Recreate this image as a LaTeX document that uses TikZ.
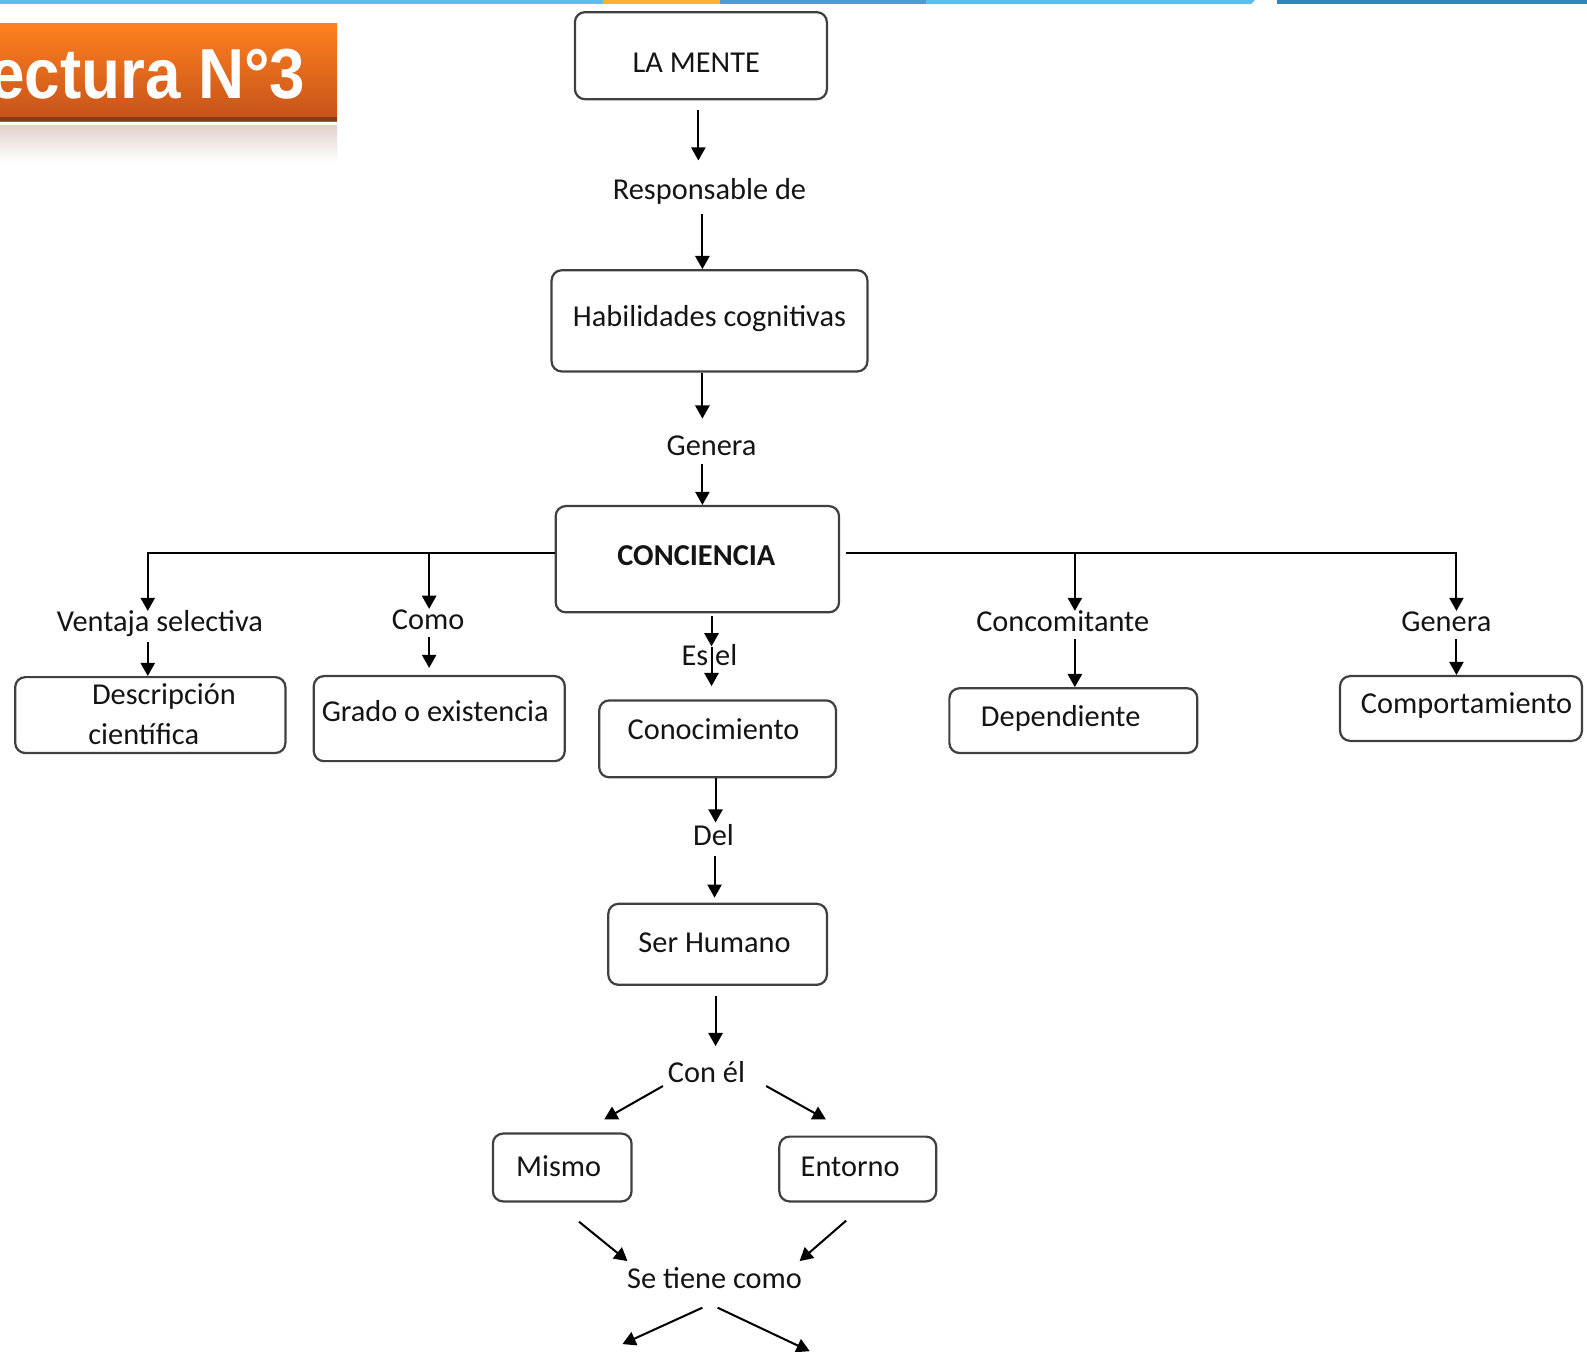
\documentclass[tikz,border=0pt]{standalone}
\usepackage{fontspec}
\usepackage{graphicx}
\setmainfont{Carlito}
\newfontfamily\bannerfont{Liberation Sans}
\usetikzlibrary{arrows.meta}
\definecolor{lblue}{HTML}{5FBDE9}
\definecolor{mblue}{HTML}{4A9ED3}
\definecolor{dblue}{HTML}{3282BE}
\definecolor{obar}{HTML}{FBB034}
\definecolor{bantop}{HTML}{FF801F}
\definecolor{banbot}{HTML}{C4521A}
\definecolor{banline}{HTML}{8A3A14}
\definecolor{refl}{HTML}{E2D2CC}
\definecolor{ink}{HTML}{141414}
\tikzset{
  box/.style={draw=black!75, line width=1.1pt, rounded corners=5pt, inner sep=0pt},
  lbl/.style={inner sep=0pt, font=\fontsize{15}{18}\selectfont, text=ink, text height=11pt, text depth=3pt, yshift=-1pt},
  arr/.style={draw=black, line width=1pt, -{Triangle[length=6.5pt,width=7pt]}},
}
\begin{document}
\begin{tikzpicture}[x=0.5pt,y=-0.5pt]
\useasboundingbox (0,0) rectangle (1568,1335);
% top bar
\fill[lblue] (0,0) rectangle (596,4);
\fill[obar] (596,0) rectangle (711,4);
\fill[mblue] (711,0) rectangle (915,4);
\fill[lblue] (915,0) -- (1240,0) -- (1236,4) -- (915,4) -- cycle;
\fill[dblue] (1262,0) rectangle (1568,4);
% banner
\shade[top color=bantop, bottom color=banbot] (0,23) rectangle (333,120);
\fill[banline] (0,116) rectangle (333,120);
\shade[top color=refl, bottom color=white] (0,124) rectangle (333,160);
\begin{scope}
\clip (0,23) rectangle (333,120);
\node[anchor=base east, inner sep=0pt, text=white, font=\bannerfont\bfseries\fontsize{35}{40}\selectfont] (title) at (302,97) {\scalebox{0.9}[1]{Lectura N°3}};
\end{scope}

% boxes
\node[box, minimum width=124.5pt, minimum height=43pt] (lam) at (692.5,55) {};
\node[box, minimum width=156pt, minimum height=50pt] (hab) at (701,317) {};
\node[box, minimum width=140pt, minimum height=52.5pt] (conc) at (689,552.5) {};
\node[box, minimum width=133.5pt, minimum height=37.5pt] (desc) at (148.5,706.5) {};
\node[box, minimum width=124pt, minimum height=42pt] (grado) at (434,710) {};
\node[box, minimum width=117pt, minimum height=38pt] (cono) at (709,730) {};
\node[box, minimum width=122.5pt, minimum height=32pt] (dep) at (1060.5,712) {};
\node[box, minimum width=119.5pt, minimum height=32pt] (comp) at (1443.5,700) {};
\node[box, minimum width=108pt, minimum height=40pt] (ser) at (709,933) {};
\node[box, minimum width=68.5pt, minimum height=33.5pt] (mis) at (555.5,1153.5) {};
\node[box, minimum width=77.5pt, minimum height=32pt] (ent) at (847.5,1155) {};

% box texts
\node[lbl] (lamT) at (688,62) {LA MENTE};
\node[lbl] (habT) at (701,313) {Habilidades cognitivas};
\node[lbl, font=\fontsize{15}{18}\selectfont\bfseries] (concT) at (688,549) {CONCIENCIA};
\node[lbl] (descT1) at (162,686) {Descripción};
\node[lbl] (descT2) at (142,726) {científica};
\node[lbl] (gradoT) at (430,703) {Grado o existencia};
\node[lbl] (conoT) at (705,721) {Conocimiento};
\node[lbl] (depT) at (1048,708) {Dependiente};
\node[lbl] (compT) at (1449,695) {Comportamiento};
\node[lbl] (serT) at (706,931) {Ser Humano};
\node[lbl] (misT) at (552,1152) {Mismo};
\node[lbl] (entT) at (840,1152) {Entorno};

% connector labels
\node[lbl] (resp) at (701,187) {Responsable de};
\node[lbl] (gen1) at (703,440) {Genera};
\node[lbl] (vent) at (158,614) {Ventaja selectiva};
\node[lbl] (como) at (423,612) {Como};
\node[lbl] (esel) at (701,648) {Es el};
\node[lbl] (concom) at (1050,614) {Concomitante};
\node[lbl] (gen2) at (1429,614) {Genera};
\node[lbl] (del) at (705,825) {Del};
\node[lbl] (conel) at (698,1060) {Con él};
\node[lbl] (setiene) at (706,1263) {Se tiene como};

% guide coordinates
\coordinate (v1) at (690,0);
\coordinate (v2) at (694,0);
\coordinate (ves) at (703,0);
\coordinate (vd1) at (707,0);
\coordinate (vd2) at (706,0);
\coordinate (vd3) at (707,0);
\coordinate (dl1) at (146,0);
\coordinate (dl2) at (424,0);
\coordinate (dr1) at (1062,0);
\coordinate (dr2) at (1439,0);
\coordinate (hl) at (0,546);
\coordinate (hr) at (836,546);
\coordinate (b1) at (615,1328);
\coordinate (b2) at (800,1335);

% main spine
\draw[arr, shorten <=5pt, shorten >=8pt] (lam.south -| v1) -- (resp.north -| v1);
\draw[arr, shorten <=4pt] (resp.south -| v2) -- (hab.north -| v2);
\draw[arr, shorten >=7pt] (hab.south -| v2) -- (gen1.north -| v2);
\draw[arr, shorten <=1pt] (gen1.south -| v2) -- (conc.north -| v2);

% branches
\draw[arr, shorten >=-1pt] (conc.west |- hl) -| (vent.north -| dl1);
\draw[arr, shorten >=-1pt] (dl2 |- hl) -- (como.north -| dl2);
\draw[arr, shorten >=-1pt] (hr) -| (gen2.north -| dr2);
\draw[arr, shorten >=-1pt] (dr1 |- hl) -- (concom.north -| dr1);
\draw[arr, shorten <=2pt] (vent.south -| dl1) -- (desc.north -| dl1);
\draw[arr, shorten <=0.5pt, shorten >=3.5pt] (como.south -| dl2) -- (grado.north -| dl2);
\draw[arr, shorten <=0.5pt] (concom.south -| dr1) -- (dep.north -| dr1);
\draw[arr, shorten <=0.5pt] (gen2.south -| dr2) -- (comp.north -| dr2);

% es el
\draw[arr, shorten <=1.5pt, shorten >=-1.5pt] (conc.south -| ves) -- (esel.north -| ves);
\draw[arr, shorten <=2pt, shorten >=6.5pt] (esel.north -| ves) -- (cono.north -| ves);

% lower spine
\draw[arr, shorten <=0pt] (cono.south -| vd1) -- (del.north -| vd1);
\draw[arr, shorten <=2pt, shorten >=2.5pt] (del.south -| vd2) -- (ser.north -| vd2);
\draw[arr, shorten <=5pt, shorten >=7pt] (ser.south -| vd3) -- (conel.north -| vd3);

% diagonals
\draw[arr] ([xshift=-21.5pt,yshift=-5.5pt]conel.center) -- ([xshift=20.75pt,yshift=23.75pt]mis.center);
\draw[arr] ([xshift=29.5pt,yshift=-5.5pt]conel.center) -- ([xshift=-15.75pt,yshift=24.5pt]ent.center);
\draw[arr] ([xshift=8.25pt,yshift=-26.75pt]mis.center) -- ([xshift=-43pt,yshift=9.5pt]setiene.center);
\draw[arr] ([xshift=-5.75pt,yshift=-25.5pt]ent.center) -- ([xshift=42pt,yshift=9.5pt]setiene.center);
\draw[arr] ([xshift=-6pt,yshift=-13.5pt]setiene.center) -- (b1);
\draw[arr] ([xshift=1.5pt,yshift=-13.5pt]setiene.center) -- (b2);
\end{tikzpicture}
\end{document}
